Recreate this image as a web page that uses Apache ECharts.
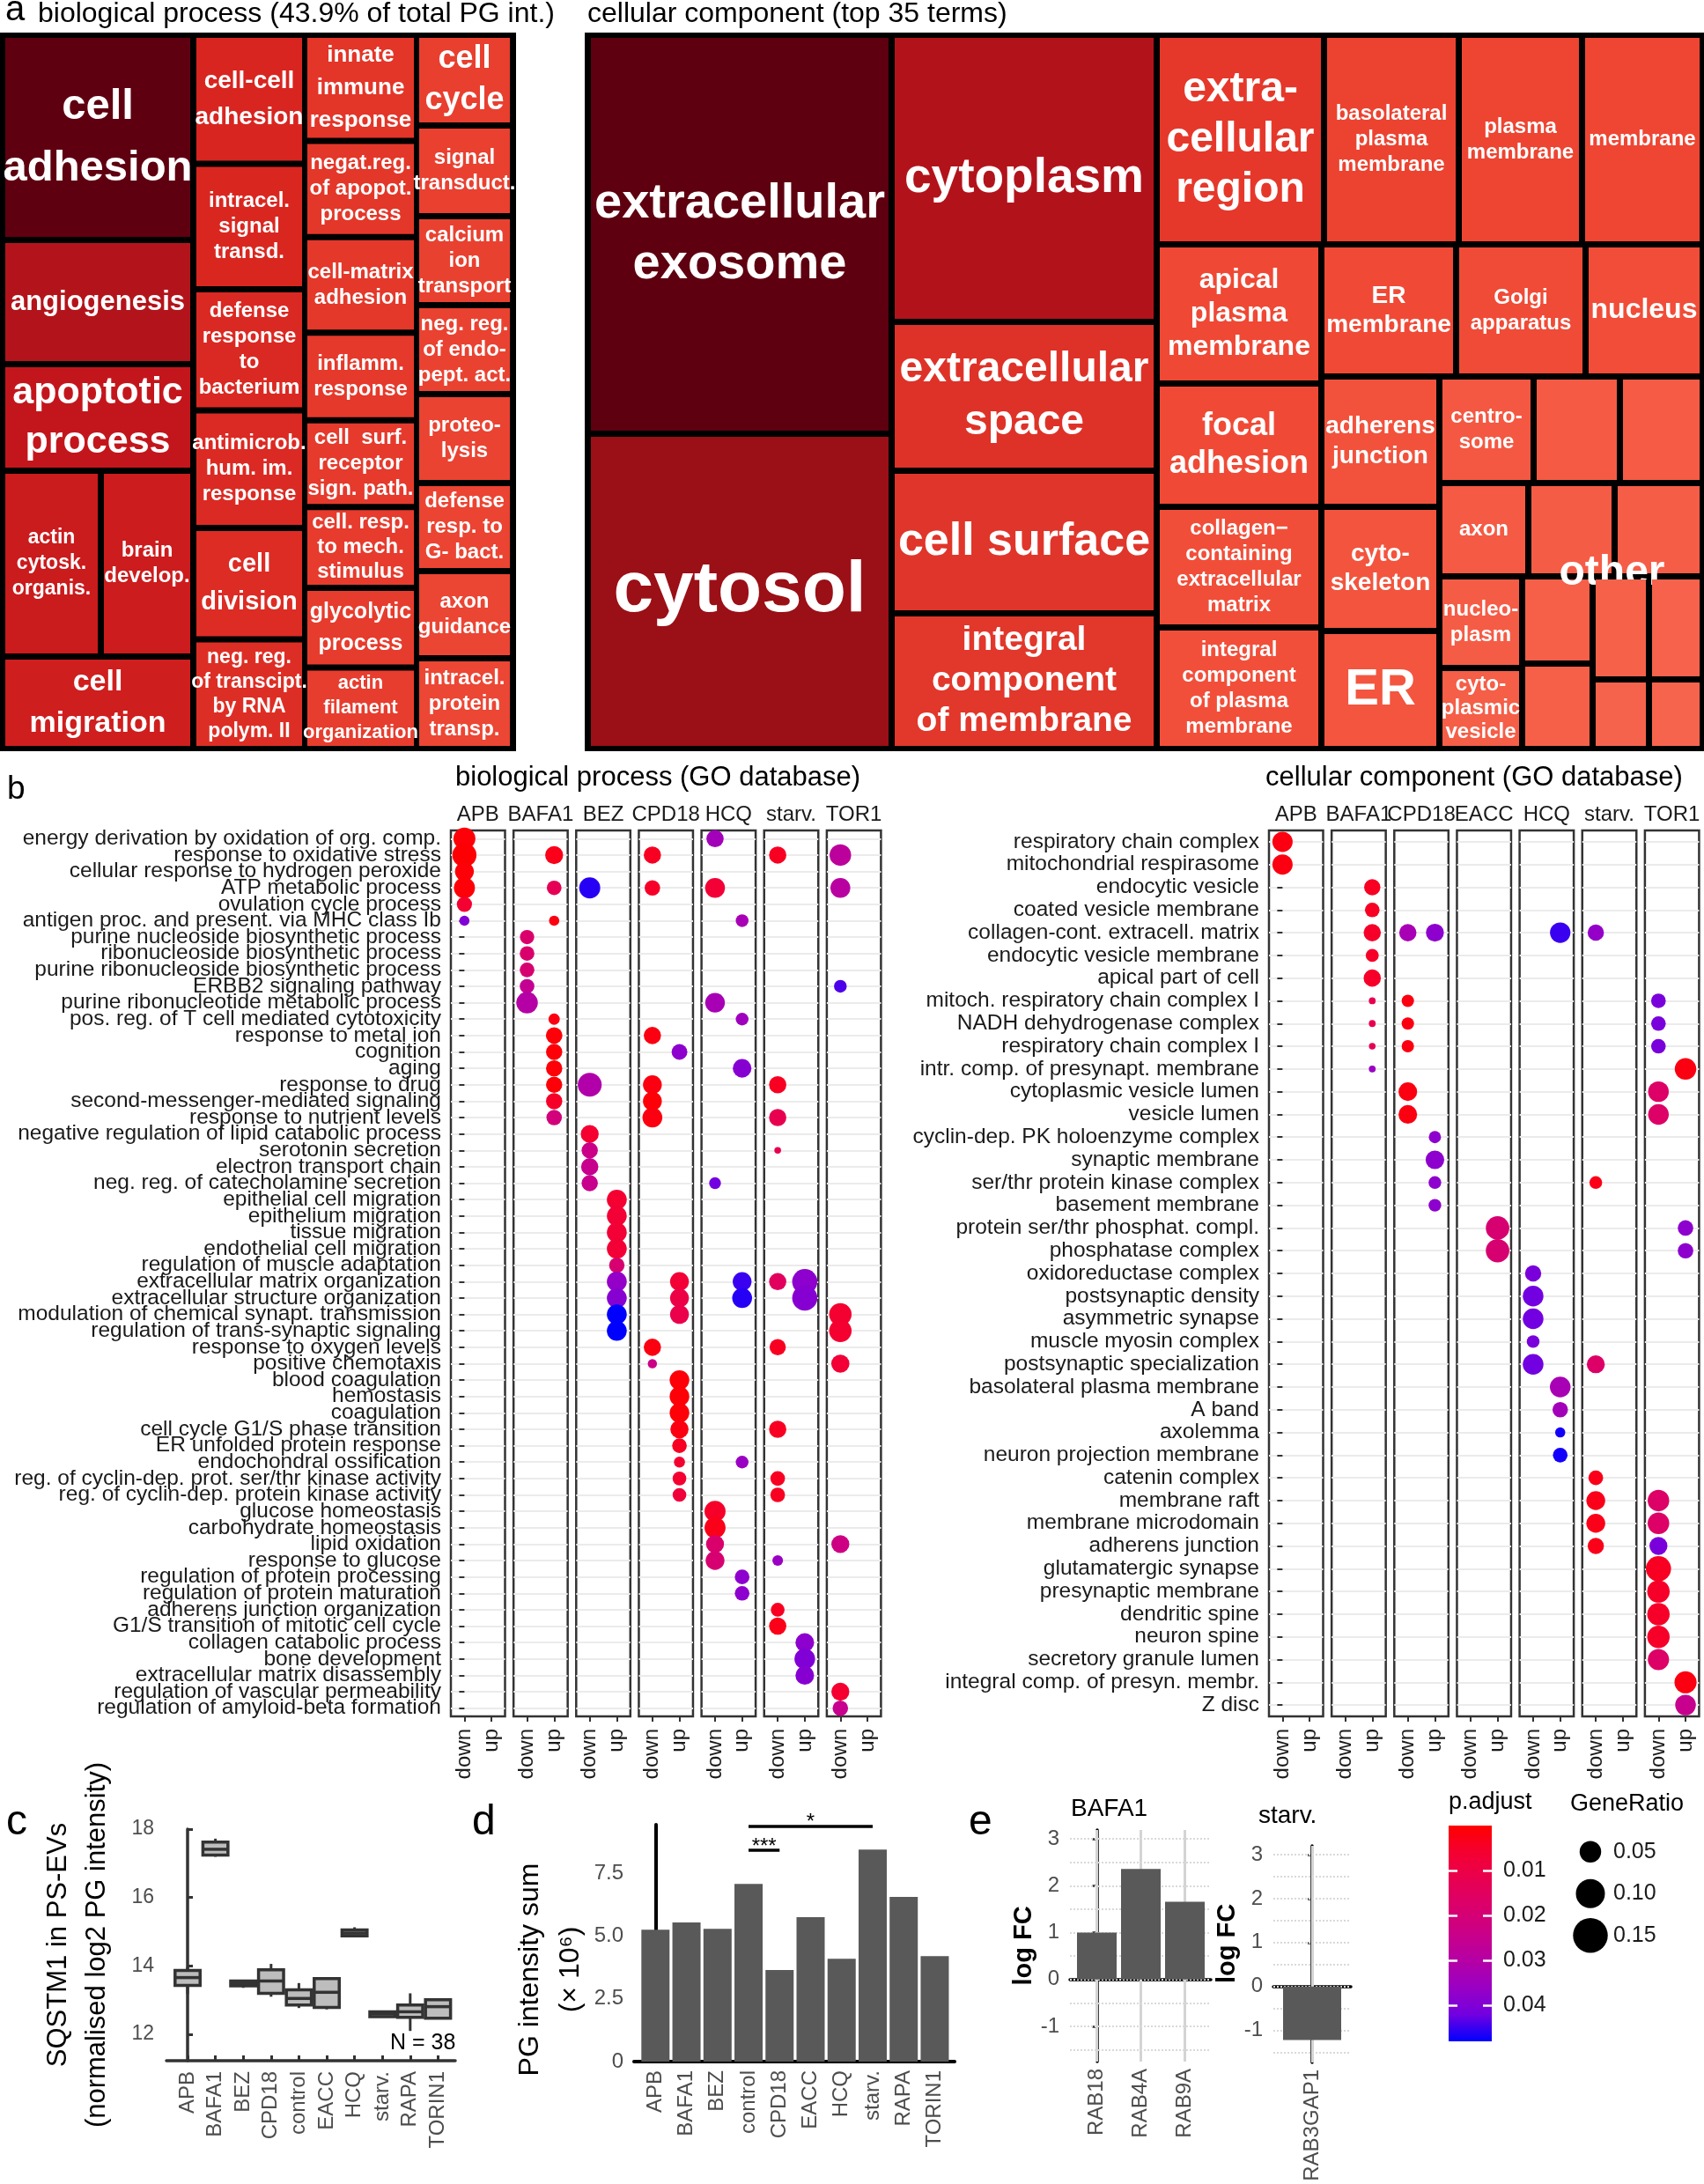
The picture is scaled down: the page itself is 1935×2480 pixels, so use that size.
<!DOCTYPE html>
<html><head><meta charset="utf-8">
<script src="https://cdn.jsdelivr.net/npm/echarts@6.0.0/dist/echarts.min.js"></script>
<style>html,body{margin:0;padding:0;background:#fff}#chart{width:1935px;height:2480px}</style>
</head><body><div id="chart"></div>
<script>
// ================= DATA =================
// --- panel a: treemaps (values = relative area of each term) ---
const BP_TM_COL1 = [['cell\nadhesion', 50561], ['angiogenesis', 30597], ['apoptotic\nprocess', 26257],
  {g: [['actin\ncytosk.\norganis.', 23632], ['brain\ndevelop.', 22155]]}, ['cell\nmigration', 22785]];
const BP_TM_COL2 = [['cell-cell\nadhesion', 146], ['intracel.\nsignal\ntransd.', 142], ['defense\nresponse\nto\nbacterium', 137],
  ['antimicrob.\nhum. im.\nresponse', 133], ['cell\ndivision', 126], ['neg. reg.\nof transcipt.\nby RNA\npolym. II', 124]];
const BP_TM_COL3 = [['innate\nimmune\nresponse', 121], ['negat.reg.\nof apopot.\nprocess', 110], ['cell-matrix\nadhesion', 109],
  ['inflamm.\nresponse', 100], ['cell  surf.\nreceptor\nsign. path.', 99], ['cell. resp.\nto mech.\nstimulus', 92],
  ['glycolytic\nprocess', 91], ['actin\nfilament\norganization', 93]];
const BP_TM_COL4 = [['cell\ncycle', 103], ['signal\ntransduct.', 103], ['calcium\nion\ntransport', 101], ['neg. reg.\nof endo-\npept. act.', 101],
  ['proteo-\nlysis', 101], ['defense\nresp. to\nG- bact.', 100], ['axon\nguidance', 99], ['intracel.\nprotein\ntransp.', 103]];
const CC_TM = [
  {g: [['extracellular\nexosome', 156285], ['cytosol', 123510]]},
  {g: [['cytoplasm', 98126], ['extracellular\nspace', 50869], ['cell surface', 48762], ['integral\ncomponent\nof membrane', 46354]]},
  {g: [
    {g: [['extra-\ncellular\nregion', 45220], ['basolateral\nplasma\nmembrane', 36414], ['plasma\nmembrane', 33320], ['membrane', 32606]]},
    {g: [['apical\nplasma\nmembrane', 29546], ['focal\nadhesion', 26180], ['collagen\u2212\ncontaining\nextracellular\nmatrix', 25619], ['integral\ncomponent\nof plasma\nmembrane', 25806]]},
    {g: [['ER\nmembrane', 22950], ['Golgi\napparatus', 22050], ['nucleus', 19950]]},
    {g: [['adherens\njunction', 19832], ['cyto-\nskeleton', 18894], ['ER', 17956]]},
    {g: [
      {g: [['centro-\nsome', 12947], ['', 11858], ['', 11374]]},
      {g: [['axon', 10706], ['other', 10388], ['', 10600]]},
      {g: [['nucleo-\nplasm', 9776], ['cyto-\nplasmic\nvesicle', 8648]]},
      {g: [['', 7920], ['', 7760]]},
      {g: [{g: [['', 7488], ['', 7137]]}, {g: [['', 5056], ['', 4819]]}]}
    ]}
  ]}
];

// --- panel b: GO enrichment dot plots ---
const DIRECTIONS = ['down', 'up'];
const BP_FACETS = ['APB', 'BAFA1', 'BEZ', 'CPD18', 'HCQ', 'starv.', 'TOR1'];
const CC_FACETS = ['APB', 'BAFA1', 'CPD18', 'EACC', 'HCQ', 'starv.', 'TOR1'];
const BP_TERMS = [
'energy derivation by oxidation of org. comp.','response to oxidative stress','cellular response to hydrogen peroxide',
'ATP metabolic process','ovulation cycle process','antigen proc. and present. via MHC class Ib',
'purine nucleoside biosynthetic process','ribonucleoside biosynthetic process','purine ribonucleoside biosynthetic process',
'ERBB2 signaling pathway','purine ribonucleotide metabolic process','pos. reg. of T cell mediated cytotoxicity',
'response to metal ion','cognition','aging','response to drug','second-messenger-mediated signaling',
'response to nutrient levels','negative regulation of lipid catabolic process','serotonin secretion',
'electron transport chain','neg. reg. of catecholamine secretion','epithelial cell migration','epithelium migration',
'tissue migration','endothelial cell migration','regulation of muscle adaptation','extracellular matrix organization',
'extracellular structure organization','modulation of chemical synapt. transmission','regulation of trans-synaptic signaling',
'response to oxygen levels','positive chemotaxis','blood coagulation','hemostasis','coagulation',
'cell cycle G1/S phase transition','ER unfolded protein response','endochondral ossification',
'reg. of cyclin-dep. prot. ser/thr kinase activity','reg. of cyclin-dep. protein kinase activity',
'glucose homeostasis','carbohydrate homeostasis','lipid oxidation','response to glucose',
'regulation of protein processing','regulation of protein maturation','adherens junction organization',
'G1/S transition of mitotic cell cycle','collagen catabolic process','bone development',
'extracellular matrix disassembly','regulation of vascular permeability','regulation of amyloid-beta formation'];
const CC_TERMS = [
'respiratory chain complex','mitochondrial respirasome','endocytic vesicle','coated vesicle membrane',
'collagen-cont. extracell. matrix','endocytic vesicle membrane','apical part of cell','mitoch. respiratory chain complex I',
'NADH dehydrogenase complex','respiratory chain complex I','intr. comp. of presynapt. membrane','cytoplasmic vesicle lumen',
'vesicle lumen','cyclin-dep. PK holoenzyme complex','synaptic membrane','ser/thr protein kinase complex','basement membrane',
'protein ser/thr phosphat. compl.','phosphatase complex','oxidoreductase complex','postsynaptic density','asymmetric synapse',
'muscle myosin complex','postsynaptic specialization','basolateral plasma membrane','A band','axolemma',
'neuron projection membrane','catenin complex','membrane raft','membrane microdomain','adherens junction',
'glutamatergic synapse','presynaptic membrane','dendritic spine','neuron spine','secretory granule lumen',
'integral comp. of presyn. membr.','Z disc'];
// [term row, facet, direction, p.adjust, GeneRatio]
const BP_DOTS = [
[0,'APB','down',0.001,0.052],[0,'HCQ','down',0.034,0.029],
[1,'APB','down',0.0005,0.065],[1,'BAFA1','up',0.003,0.032],[1,'CPD18','down',0.004,0.029],[1,'starv.','down',0.004,0.029],[1,'TOR1','down',0.028,0.05],
[2,'APB','down',0.001,0.036],
[3,'APB','down',0.001,0.047],[3,'BAFA1','up',0.013,0.019],[3,'BEZ','down',0.046,0.047],[3,'CPD18','down',0.005,0.022],[3,'HCQ','down',0.007,0.041],[3,'TOR1','down',0.029,0.041],
[4,'APB','down',0.006,0.021],
[5,'APB','down',0.040,0.0067],[5,'BAFA1','up',0.002,0.007],[5,'HCQ','up',0.033,0.013],
[6,'BAFA1','down',0.018,0.018],[7,'BAFA1','down',0.018,0.019],[8,'BAFA1','down',0.019,0.019],
[9,'BAFA1','down',0.026,0.019],[9,'TOR1','down',0.044,0.013],
[10,'BAFA1','down',0.030,0.05],[10,'HCQ','down',0.033,0.04],
[11,'BAFA1','up',0.002,0.0092],[11,'HCQ','up',0.035,0.013],
[12,'BAFA1','up',0.001,0.026],[12,'CPD18','down',0.002,0.029],
[13,'BAFA1','up',0.001,0.025],[13,'CPD18','up',0.038,0.023],
[14,'BAFA1','up',0.001,0.025],[14,'HCQ','up',0.039,0.035],
[15,'BAFA1','up',0.001,0.025],[15,'BEZ','down',0.031,0.064],[15,'CPD18','down',0.002,0.036],[15,'starv.','down',0.004,0.029],
[16,'BAFA1','up',0.005,0.025],[16,'CPD18','down',0.001,0.036],
[17,'BAFA1','up',0.021,0.022],[17,'CPD18','down',0.002,0.041],[17,'starv.','down',0.012,0.029],
[18,'BEZ','down',0.006,0.032],
[19,'BEZ','down',0.024,0.025],[19,'starv.','down',0.012,0.0015],
[20,'BEZ','down',0.025,0.029],
[21,'BEZ','down',0.025,0.025],[21,'HCQ','down',0.042,0.0105],
[22,'BEZ','up',0.006,0.041],[23,'BEZ','up',0.007,0.041],[24,'BEZ','up',0.007,0.041],[25,'BEZ','up',0.007,0.041],
[26,'BEZ','up',0.019,0.022],
[27,'BEZ','up',0.037,0.041],[27,'CPD18','up',0.007,0.036],[27,'HCQ','up',0.045,0.036],[27,'starv.','down',0.015,0.029],[27,'starv.','up',0.038,0.072],
[28,'BEZ','up',0.039,0.041],[28,'CPD18','up',0.010,0.036],[28,'HCQ','up',0.046,0.041],[28,'starv.','up',0.039,0.072],
[29,'BEZ','up',0.048,0.041],[29,'CPD18','up',0.011,0.036],[29,'TOR1','down',0.006,0.055],
[30,'BEZ','up',0.048,0.041],[30,'TOR1','down',0.006,0.055],
[31,'CPD18','down',0.002,0.029],[31,'starv.','down',0.004,0.025],
[32,'CPD18','down',0.024,0.005],[32,'TOR1','down',0.007,0.033],
[33,'CPD18','up',0.001,0.04],[34,'CPD18','up',0.001,0.04],[35,'CPD18','up',0.001,0.04],
[36,'CPD18','up',0.002,0.033],[36,'starv.','down',0.004,0.029],
[37,'CPD18','up',0.004,0.019],
[38,'CPD18','up',0.006,0.0086],[38,'HCQ','up',0.036,0.013],
[39,'CPD18','up',0.006,0.016],[39,'starv.','down',0.004,0.019],
[40,'CPD18','up',0.008,0.016],[40,'starv.','down',0.004,0.019],
[41,'HCQ','down',0.005,0.047],[42,'HCQ','down',0.003,0.047],
[43,'HCQ','down',0.018,0.032],[43,'TOR1','down',0.023,0.032],
[44,'HCQ','down',0.019,0.036],[44,'starv.','down',0.036,0.0078],
[45,'HCQ','up',0.038,0.019],[46,'HCQ','up',0.038,0.019],
[47,'starv.','down',0.004,0.016],[48,'starv.','down',0.003,0.029],
[49,'starv.','up',0.038,0.035],[50,'starv.','up',0.040,0.045],[51,'starv.','up',0.039,0.035],
[52,'TOR1','down',0.006,0.032],[53,'TOR1','down',0.025,0.022]];
const CC_DOTS = [
[0,'APB','down',0.002,0.043],[1,'APB','down',0.002,0.043],
[2,'BAFA1','up',0.004,0.025],[3,'BAFA1','up',0.004,0.019],
[4,'BAFA1','up',0.005,0.029],[4,'CPD18','down',0.033,0.029],[4,'CPD18','up',0.038,0.032],[4,'HCQ','up',0.045,0.044],[4,'starv.','down',0.037,0.025],
[5,'BAFA1','up',0.005,0.014],[6,'BAFA1','up',0.005,0.029],
[7,'BAFA1','up',0.012,0.0017],[7,'CPD18','down',0.002,0.012],[7,'TOR1','down',0.041,0.019],
[8,'BAFA1','up',0.012,0.0017],[8,'CPD18','down',0.002,0.012],[8,'TOR1','down',0.041,0.019],
[9,'BAFA1','up',0.013,0.0015],[9,'CPD18','down',0.002,0.012],[9,'TOR1','down',0.041,0.019],
[10,'BAFA1','up',0.036,0.0017],[10,'TOR1','up',0.002,0.05],
[11,'CPD18','down',0.002,0.035],[11,'TOR1','down',0.017,0.045],
[12,'CPD18','down',0.002,0.035],[12,'TOR1','down',0.017,0.045],
[13,'CPD18','up',0.038,0.0115],[14,'CPD18','up',0.038,0.035],
[15,'CPD18','up',0.038,0.013],[15,'starv.','down',0.003,0.013],
[16,'CPD18','up',0.038,0.013],
[17,'EACC','up',0.019,0.061],[17,'TOR1','up',0.038,0.022],
[18,'EACC','up',0.019,0.061],[18,'TOR1','up',0.038,0.022],
[19,'HCQ','down',0.041,0.025],[20,'HCQ','down',0.042,0.045],[21,'HCQ','down',0.042,0.045],[22,'HCQ','down',0.041,0.013],
[23,'HCQ','down',0.042,0.045],[23,'starv.','down',0.017,0.032],
[24,'HCQ','up',0.033,0.045],[25,'HCQ','up',0.034,0.022],[26,'HCQ','up',0.047,0.0067],[27,'HCQ','up',0.047,0.019],
[28,'starv.','down',0.003,0.019],
[29,'starv.','down',0.003,0.036],[29,'TOR1','down',0.017,0.05],
[30,'starv.','down',0.003,0.036],[30,'TOR1','down',0.017,0.05],
[31,'starv.','down',0.003,0.025],[31,'TOR1','down',0.041,0.032],
[32,'TOR1','down',0.004,0.072],[33,'TOR1','down',0.005,0.055],[34,'TOR1','down',0.005,0.055],[35,'TOR1','down',0.005,0.055],
[36,'TOR1','down',0.017,0.048],[37,'TOR1','up',0.002,0.053],[38,'TOR1','up',0.025,0.045]];
const PADJ_MIN = 0, PADJ_MAX = 0.048;
const PADJ_TICKS = [0.01, 0.02, 0.03, 0.04];
const GENERATIO_BREAKS = [0.05, 0.10, 0.15];

// --- panel c: SQSTM1 boxplots [min, Q1, median, Q3, max] ---
const BOX_GROUPS = ['APB','BAFA1','BEZ','CPD18','control','EACC','HCQ','starv.','RAPA','TORIN1'];
const BOX_STATS = [
[13.18,13.43,13.66,13.87,13.97],[17.19,17.24,17.41,17.62,17.72],[13.36,13.42,13.48,13.56,13.59],
[13.10,13.20,13.56,13.89,14.06],[12.77,12.86,13.05,13.30,13.50],[12.73,12.79,13.23,13.63,13.67],
[14.88,14.88,14.96,15.05,15.13],[12.50,12.52,12.60,12.66,12.68],[12.10,12.50,12.66,12.86,13.20],
[12.47,12.47,12.81,13.01,13.01]];
const BOX_TICKS = [12, 14, 16, 18];
const N_LABEL = 'N = 38';

// --- panel d: PG intensity sum (x 10^6) ---
const SUM_GROUPS = ['APB','BAFA1','BEZ','control','CPD18','EACC','HCQ','starv.','RAPA','TORIN1'];
const SUM_VALUES = [5.26, 5.55, 5.30, 7.09, 3.65, 5.76, 4.10, 8.46, 6.57, 4.21];
const SUM_TICKS = [0, 2.5, 5, 7.5];
const SIGNIF = [['control','CPD18',8.43,'***'], ['control','starv.',9.40,'*']];

// --- panel e: logFC of RAB genes ---
const E1_GENES = ['RAB18','RAB4A','RAB9A'];
const E1_LOGFC = [1.0, 2.36, 1.66];
const E2_GENES = ['RAB3GAP1'];
const E2_LOGFC = [-1.22];
const E_TICKS = [-1, 0, 1, 2, 3];

// ================= STYLE / LAYOUT =================
const FONT = 'Liberation Sans';
const COLOR_STOPS = ['#FF0000','#F40031','#E80050','#DA006C','#CA0088','#B500A5','#9A00C3','#7300E0','#0000FF'];
const sizeOf = r => 4 + 91.6 * Math.sqrt(r);
const BP_TM_COLORS = [
 ['#5f0010','#b3141b','#c3161c','#ca1b1d','#cc1c1d','#cf1e1e'],
 ['#d82520','#d92720','#da2922','#db2a23','#dc2c24','#dd2e25'],
 ['#e33528','#e33729','#e4382a','#e5392b','#e53a2c','#e63b2d','#e63c2d','#e73d2e'],
 ['#e83f2f','#e94030','#e94130','#ea4231','#ea4332','#eb4432','#eb4533','#ec4634']];
const CC_TM_COLORS = ['#5e000f','#9b0f16','#b2131b','#de3228','#e0352a','#e2372b','#e5382b','#ec4331','#ed4532','#ee4633',
 '#ef4834','#f04a36','#f14e39','#f24f3a','#f04a36','#f04b37','#f14d38','#f2523c','#f3543e','#f3553f','#f45842','#f55a44',
 '#f55b45','#f45a44','#f55c46','#f55d47','#f55c46','#f55e47','#f65f48','#f66049','#f6614a','#f6624b','#f6634c','#f7644d'];
// [fontSize, lineHeight]
const TM_LABEL = {
 'cell\nadhesion':[49,70],'angiogenesis':[31,36],'apoptotic\nprocess':[43,56],'actin\ncytosk.\norganis.':[23,29],
 'cell\nmigration':[34,47],'cell-cell\nadhesion':[28,41],'cell\ndivision':[29,43],'innate\nimmune\nresponse':[26,37],
 'glycolytic\nprocess':[25,36],'cell\ncycle':[36,47],'actin\nfilament\norganization':[22,28],'cell. resp.\nto mech.\nstimulus':[24,28],
 'neg. reg.\nof transcipt.\nby RNA\npolym. II':[23,28],
 'extracellular\nexosome':[56,69],'cytosol':[82,90],'cytoplasm':[55,60],'extracellular\nspace':[48,60],'cell surface':[52,60],
 'integral\ncomponent\nof membrane':[39,46],'extra-\ncellular\nregion':[48,57],'apical\nplasma\nmembrane':[32,38],
 'ER\nmembrane':[28,33],'nucleus':[32,36],'focal\nadhesion':[36,43],'adherens\njunction':[28,34],'cyto-\nskeleton':[28,33],
 'ER':[58,60],'other':[48,50],'cyto-\nplasmic\nvesicle':[24,27]};

function tmNode(x, colors, ci) {
  if (x.g) return {name: '', children: x.g.map(c => tmNode(c, colors, ci))};
  const st = TM_LABEL[x[0]] || [24, 29];
  const node = {name: x[0], value: x[1], itemStyle: {color: colors[ci.i++]}, label: {fontSize: st[0], lineHeight: st[1]}};
  if (x[0] === 'other') node.label.offset = [46, 49];
  return node;
}
function tmSeries(box, data, colors) {
  const ci = {i: 0};
  return {type: 'treemap', left: box[0], top: box[1], width: box[2], height: box[3],
    squareRatio: 0.001, sort: false, roam: false, nodeClick: false, silent: true, visibleMin: 0,
    breadcrumb: {show: false},
    levels: [0,1,2,3,4,5].map(() => ({itemStyle: {borderWidth: 0, gapWidth: 7, borderColor: '#000'}})),
    itemStyle: {borderWidth: 0, gapWidth: 7, borderColor: '#000'},
    label: {show: true, position: 'inside', color: '#fff', fontWeight: 'bold', fontFamily: FONT, overflow: 'none',
      padding: 0, formatter: '{b}'},
    upperLabel: {show: false},
    data: data.map(x => tmNode(x, colors, ci))};
}

const grids = [], xAxes = [], yAxes = [], series = [], scatterIdx = [];
const addGrid = g => { grids.push(Object.assign({outerBoundsMode: 'none', containLabel: false}, g)); return grids.length - 1; };
const addX = a => { xAxes.push(a); return xAxes.length - 1; };
const addY = a => { yAxes.push(a); return yAxes.length - 1; };

// ---- treemaps ----
series.push(tmSeries([6, 43, 210, 804], BP_TM_COL1, BP_TM_COLORS[0]));
series.push(tmSeries([223, 43, 120, 804], BP_TM_COL2, BP_TM_COLORS[1]));
series.push(tmSeries([349, 43, 121, 804], BP_TM_COL3, BP_TM_COLORS[2]));
series.push(tmSeries([476, 43, 103, 804], BP_TM_COL4, BP_TM_COLORS[3]));
series.push(tmSeries([671, 43, 1259, 804], CC_TM, CC_TM_COLORS));

// ---- panel b facets ----
const PANEL_STEP = 71.15, PANEL_W = 61.5, PANEL_TOP = 943, PANEL_H = 1006;
function facetBlock(terms, facets, dots, left0) {
  facets.forEach((f, i) => {
    const gi = addGrid({left: left0 + i * PANEL_STEP, top: PANEL_TOP, width: PANEL_W, height: PANEL_H,
      show: true, borderColor: '#333', borderWidth: 2.5, backgroundColor: '#fff'});
    const xi = addX({gridIndex: gi, type: 'value', min: -0.5, max: 1.5, interval: 0.5, position: 'bottom',
      axisLine: {show: false},
      axisTick: {show: true, customValues: [0, 1], length: 6, lineStyle: {color: '#333', width: 2}},
      axisLabel: {show: true, customValues: [0, 1], rotate: 90, margin: 14, fontSize: 24, color: '#1a1a1a',
        formatter: v => (v === 0 ? DIRECTIONS[0] : (v === 1 ? DIRECTIONS[1] : ''))},
      splitLine: {show: true, showMinLine: false, showMaxLine: false, lineStyle: {color: '#ebebeb', width: 2.2}}});
    addX({gridIndex: gi, type: 'value', min: 0, max: 1, position: 'top', name: f, nameLocation: 'middle', nameGap: 6,
      nameTextStyle: {fontSize: 24, color: '#1a1a1a'}, axisLine: {show: false}, axisTick: {show: false},
      axisLabel: {show: false}, splitLine: {show: false}});
    const yi = addY({gridIndex: gi, type: 'category', data: terms, inverse: true, boundaryGap: true,
      axisLine: {show: false},
      axisTick: {show: i === 0, alignWithLabel: true, interval: 0, length: 6, lineStyle: {color: '#333', width: 2}},
      axisLabel: {show: i === 0, interval: 0, margin: 11, fontSize: 24.5, color: '#1a1a1a'},
      splitLine: {show: true, interval: 0, alignWithLabel: true, lineStyle: {color: '#ebebeb', width: 2.2}}});
    const data = dots.filter(d => d[1] === f).map(d => [DIRECTIONS.indexOf(d[2]), d[0], d[3], d[4]]);
    series.push({type: 'scatter', xAxisIndex: xi, yAxisIndex: yi, data, clip: false, silent: true,
      symbolSize: v => sizeOf(v[3]), itemStyle: {opacity: 1}, z: 3});
    scatterIdx.push(series.length - 1);
  });
}
facetBlock(BP_TERMS, BP_FACETS, BP_DOTS, 512);
facetBlock(CC_TERMS, CC_FACETS, CC_DOTS, 1441);

// ---- legend: p.adjust colour bar ----
const gradient = new echarts.graphic.LinearGradient(0, 0, 0, 1,
  COLOR_STOPS.map((c, i) => ({offset: i / (COLOR_STOPS.length - 1), color: c})));
const isPTick = v => PADJ_TICKS.some(t => Math.abs(t - v) < 1e-9);
{
  const gi = addGrid({left: 1645, top: 2073, width: 49, height: 245});
  const xi = addX({gridIndex: gi, type: 'category', data: ['p'], show: false});
  const yi = addY({gridIndex: gi, type: 'value', min: PADJ_MIN, max: PADJ_MAX, inverse: true, position: 'right', z: 5,
    axisLine: {show: false}, splitLine: {show: false},
    axisTick: {show: true, inside: true, length: 10, customValues: PADJ_TICKS, lineStyle: {color: '#fff', width: 2.5}},
    axisLabel: {show: true, customValues: PADJ_TICKS, margin: 13, fontSize: 25, color: '#1a1a1a',
      formatter: v => (isPTick(v) ? v.toFixed(2) : '')}});
  addY({gridIndex: gi, type: 'value', min: PADJ_MIN, max: PADJ_MAX, inverse: true, position: 'left', z: 5,
    axisLine: {show: false}, splitLine: {show: false}, axisLabel: {show: false},
    axisTick: {show: true, inside: true, length: 10, customValues: PADJ_TICKS, lineStyle: {color: '#fff', width: 2.5}}});
  series.push({type: 'bar', xAxisIndex: xi, yAxisIndex: yi, data: [PADJ_MAX], barWidth: '100%', silent: true,
    itemStyle: {color: gradient}, z: 2});
}
// ---- legend: GeneRatio sizes ----
{
  const gi = addGrid({left: 1790, top: 2079, width: 32, height: 142.5});
  const xi = addX({gridIndex: gi, type: 'category', data: ['g'], show: false});
  const yi = addY({gridIndex: gi, type: 'category', data: GENERATIO_BREAKS.map(v => v.toFixed(2)), inverse: true, position: 'right',
    axisLine: {show: false}, axisTick: {show: false}, splitLine: {show: false},
    axisLabel: {margin: 10, fontSize: 25, color: '#1a1a1a'}});
  series.push({type: 'scatter', xAxisIndex: xi, yAxisIndex: yi, silent: true,
    data: GENERATIO_BREAKS.map((v, i) => [0, i, v]), symbolSize: v => sizeOf(v[2]), itemStyle: {color: '#000', opacity: 1}});
}

// ---- panel c: boxplots ----
{
  const gi = addGrid({left: 189, top: 2077, width: 328, height: 263});
  const idx = BOX_GROUPS.map((_, i) => i);
  const xi = addX({gridIndex: gi, type: 'value', min: -0.76, max: 9.62, position: 'bottom',
    axisLine: {show: true, lineStyle: {color: '#333', width: 3.5}},
    axisTick: {show: true, inside: true, length: 6, customValues: idx, lineStyle: {color: '#333', width: 3}},
    axisLabel: {customValues: idx, rotate: 90, margin: 12, fontSize: 24, color: '#4d4d4d',
      formatter: v => (Number.isInteger(v) ? (BOX_GROUPS[v] || '') : '')},
    splitLine: {show: false}});
  const yi = addY({gridIndex: gi, type: 'value', min: 11.23, max: 18, position: 'left',
    name: 'SQSTM1 in PS-EVs\n(normalised log2 PG intensity)', nameLocation: 'middle', nameRotate: 90, nameGap: 57,
    nameTextStyle: {fontSize: 31, lineHeight: 44, color: '#000', align: 'center'},
    axisLine: {show: true, lineStyle: {color: '#333', width: 3.5}},
    axisTick: {show: true, inside: true, length: 6, customValues: BOX_TICKS, lineStyle: {color: '#333', width: 3}},
    axisLabel: {customValues: BOX_TICKS, margin: 14, fontSize: 23, color: '#4d4d4d'},
    splitLine: {show: false}});
  series.push({type: 'custom', xAxisIndex: xi, yAxisIndex: yi, silent: true, clip: false,
    data: BOX_STATS.map((s, i) => [i].concat(s)), encode: {x: 0, y: [1, 2, 3, 4, 5]},
    renderItem: (params, api) => {
      const i = api.value(0);
      const pMin = api.coord([i, api.value(1)]), pQ1 = api.coord([i, api.value(2)]), pMd = api.coord([i, api.value(3)]);
      const pQ3 = api.coord([i, api.value(4)]), pMax = api.coord([i, api.value(5)]);
      const hw = api.size([0.9, 0])[0] / 2;
      return {type: 'group', children: [
        {type: 'line', shape: {x1: pMin[0], y1: pMin[1], x2: pMax[0], y2: pMax[1]}, style: {stroke: '#333', lineWidth: 3}},
        {type: 'rect', shape: {x: pQ1[0] - hw, y: pQ3[1], width: 2 * hw, height: Math.max(pQ1[1] - pQ3[1], 1)},
          style: {fill: '#bdbdbd', stroke: '#333', lineWidth: 3.5}},
        {type: 'line', shape: {x1: pMd[0] - hw, y1: pMd[1], x2: pMd[0] + hw, y2: pMd[1]}, style: {stroke: '#333', lineWidth: 3.5}}
      ]};
    }});
}

// ---- panel d: bars with significance ----
{
  const gi = addGrid({left: 720, top: 2072, width: 364, height: 269});
  const idx = SUM_GROUPS.map((_, i) => i);
  const xi = addX({gridIndex: gi, type: 'value', min: -0.69, max: 9.64, position: 'bottom',
    axisLine: {show: true, lineStyle: {color: '#000', width: 4}}, axisTick: {show: false},
    axisLabel: {customValues: idx, rotate: 90, margin: 10, fontSize: 24, color: '#4d4d4d',
      formatter: v => (Number.isInteger(v) ? (SUM_GROUPS[v] || '') : '')},
    splitLine: {show: false}});
  const yi = addY({gridIndex: gi, type: 'value', min: 0, max: 9.45, position: 'left',
    name: 'PG intensity sum\n(\u00d7 10\u2076)', nameLocation: 'middle', nameRotate: 90, nameGap: 47,
    nameTextStyle: {fontSize: 32, lineHeight: 46, color: '#000', align: 'center', padding: [0, 60, 0, 0]},
    axisLine: {show: true, lineStyle: {color: '#000', width: 4}}, axisTick: {show: false},
    axisLabel: {customValues: SUM_TICKS, margin: 12, fontSize: 24, color: '#4d4d4d',
      formatter: v => (SUM_TICKS.indexOf(v) < 0 ? '' : (v === 0 ? '0' : v.toFixed(1)))},
    splitLine: {show: false}});
  series.push({type: 'bar', xAxisIndex: xi, yAxisIndex: yi, silent: true, barWidth: 32,
    data: SUM_VALUES.map((v, i) => [i, v]), itemStyle: {color: '#595959'},
    markLine: {silent: true, symbol: 'none', animation: false,
      lineStyle: {color: '#000', width: 3.5, type: 'solid'},
      label: {show: true, position: 'insideMiddleTop', formatter: '{b}', color: '#000', fontSize: 24, distance: -8},
      data: SIGNIF.map(s => [{name: s[3], coord: [SUM_GROUPS.indexOf(s[0]), s[2]]}, {coord: [SUM_GROUPS.indexOf(s[1]), s[2]]}])}});
}

// ---- panel e: logFC bars ----
function logfcPanel(box, genes, values, yMin, yMax, xRange, barW, nameGap, namePad) {
  const gi = addGrid({left: box[0], top: box[1], width: box[2], height: box[3]});
  const idx = genes.map((_, i) => i);
  const xi = addX({gridIndex: gi, type: 'value', min: xRange[0], max: xRange[1], position: 'bottom',
    axisLine: {show: true, lineStyle: {color: '#000', width: 3.5}},
    axisTick: {show: true, customValues: idx, length: 5, lineStyle: {color: '#333', width: 2.5}},
    axisLabel: {customValues: idx, rotate: 90, margin: 8, fontSize: 24, color: '#4d4d4d',
      formatter: v => (Number.isInteger(v) ? (genes[v] || '') : '')},
    splitLine: {show: false}});
  const yi = addY({gridIndex: gi, type: 'value', min: yMin, max: yMax, position: 'left',
    name: 'log FC', nameLocation: 'middle', nameRotate: 90, nameGap: nameGap,
    nameTextStyle: {fontSize: 29, fontWeight: 'bold', color: '#000', padding: namePad},
    axisLine: {show: true, lineStyle: {color: '#000', width: 3.5}},
    axisTick: {show: true, customValues: E_TICKS, length: 5, lineStyle: {color: '#333', width: 2.5}},
    axisLabel: {customValues: E_TICKS, margin: 12, fontSize: 24, color: '#4d4d4d'},
    splitLine: {show: false}});
  const gridLines = idx.map(i => ({xAxis: i, lineStyle: {color: '#d4d4d4', width: 3, type: 'solid'}}));
  for (let v = Math.ceil(yMin * 2) / 2; v <= yMax + 1e-9; v += 0.5) {
    gridLines.push({yAxis: v, lineStyle: {color: '#d9d9d9', width: 2, type: 'dotted'}});
  }
  series.push({type: 'scatter', xAxisIndex: xi, yAxisIndex: yi, silent: true, data: [[0, 0]], symbolSize: 0, z: 1,
    markLine: {silent: true, symbol: 'none', animation: false, z: 1, label: {show: false}, data: gridLines}});
  series.push({type: 'bar', xAxisIndex: xi, yAxisIndex: yi, silent: true, barWidth: barW, z: 4,
    data: values.map((v, i) => [i, v]), itemStyle: {color: '#595959'}});
}
logfcPanel([1215, 2078, 160, 263], E1_GENES, E1_LOGFC, -1.75, 3.19, [-0.61, 2.59], 45, 33, [0, 0, 0, 0]);
logfcPanel([1446, 2096, 88, 246], E2_GENES, E2_LOGFC, -1.73, 3.2, [-0.667, 0.667], 66, 25, [0, 0, 0, 24]);

// ---- titles / panel letters ----
const T = (text, left, top, fontSize, extra) => ({text, left, top, padding: 0, itemGap: 0,
  textStyle: Object.assign({fontSize, fontWeight: 'normal', color: '#000', fontFamily: FONT}, extra || {})});
const titles = [
  T('a', 6, -8, 40), T('biological process (43.9% of total PG int.)', 43, 0, 32),
  T('cellular component (top 35 terms)', 667, 0, 32),
  T('b', 8, 878, 37), T('biological process (GO database)', 517, 868, 31), T('cellular component (GO database)', 1437, 868, 31),
  T('c', 7, 2046, 48), T('d', 536, 2046, 48), T('e', 1100, 2046, 48),
  T(N_LABEL, 443, 2308, 25),
  T('BAFA1', 1216, 2040, 28), T('starv.', 1429, 2048, 28),
  T('p.adjust', 1645, 2033, 27), T('GeneRatio', 1783, 2035, 27)
];

const option = {
  animation: false,
  backgroundColor: '#fff',
  textStyle: {fontFamily: FONT},
  title: titles,
  graphic: [
    {type: 'rect', shape: {x: 0, y: 37, width: 586, height: 816}, style: {fill: '#000'}, z: 0, silent: true},
    {type: 'rect', shape: {x: 664, y: 37, width: 1271, height: 816}, style: {fill: '#000'}, z: 0, silent: true}
  ],
  grid: grids, xAxis: xAxes, yAxis: yAxes,
  visualMap: [{type: 'continuous', show: false, min: PADJ_MIN, max: PADJ_MAX, dimension: 2, seriesIndex: scatterIdx,
    inRange: {color: COLOR_STOPS}}],
  series
};
const chart = echarts.init(document.getElementById('chart'), null, {renderer: 'canvas', width: 1935, height: 2480});
chart.setOption(option);
</script></body></html>
